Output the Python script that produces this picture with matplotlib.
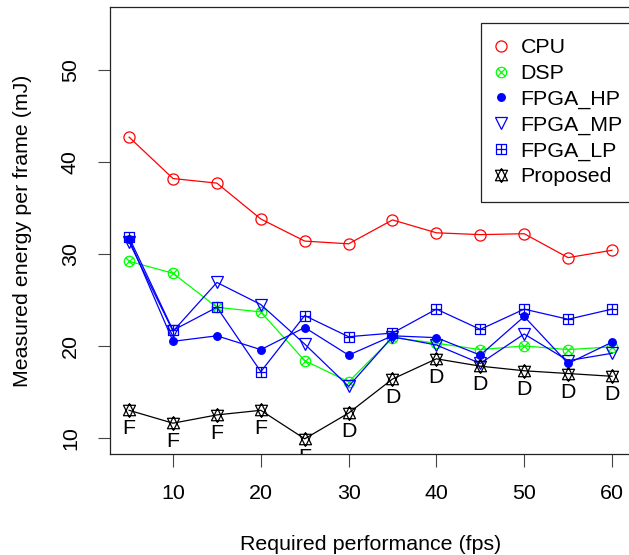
import matplotlib
matplotlib.use("Agg")
import matplotlib.pyplot as plt
import numpy as np
from matplotlib.path import Path
from matplotlib.lines import Line2D

plt.rcParams['font.family'] = ['Liberation Sans', 'DejaVu Sans']

# dados
fps = [5, 10, 15, 20, 25, 30, 35, 40, 45, 50, 55, 60]
cpu = [42.7, 38.2, 37.7, 33.8, 31.4, 31.1, 33.7, 32.3, 32.1, 32.2, 29.6, 30.4]
dsp = [29.2, 27.9, 24.2, 23.7, 18.4, 16.1, 20.9, 20.3, 19.6, 20.0, 19.6, 19.9]
fpga_hp = [31.6, 20.5, 21.1, 19.6, 22.0, 19.0, 21.1, 20.9, 19.0, 23.2, 18.1, 20.4]
fpga_mp = [31.3, 21.6, 26.9, 24.5, 20.2, 15.6, 21.0, 20.1, 18.1, 21.3, 18.4, 19.2]
fpga_lp = [31.8, 21.7, 24.2, 17.2, 23.3, 21.0, 21.4, 24.0, 21.8, 24.0, 22.9, 24.0]
proposed = [13.0, 11.6, 12.5, 13.0, 9.9, 12.7, 16.4, 18.6, 17.8, 17.3, 17.0, 16.7]
escolha = ['F', 'F', 'F', 'F', 'F', 'D', 'D', 'D', 'D', 'D', 'D', 'D']

FS = 15.4

# marcadores compostos no estilo do R (pch 11, 12, 13)
circ = Path.unit_circle()
d = 0.7071
circ_x = Path.make_compound_path(
    circ,
    Path([(-d, -d), (d, d)], [Path.MOVETO, Path.LINETO]),
    Path([(-d, d), (d, -d)], [Path.MOVETO, Path.LINETO]),
)
sq_plus = Path.make_compound_path(
    Path([(-1, -1), (1, -1), (1, 1), (-1, 1), (-1, -1)],
         [Path.MOVETO, Path.LINETO, Path.LINETO, Path.LINETO, Path.CLOSEPOLY]),
    Path([(-1, 0), (1, 0)], [Path.MOVETO, Path.LINETO]),
    Path([(0, -1), (0, 1)], [Path.MOVETO, Path.LINETO]),
)
r, yc, xc = 1.5551, 1.1663, 1.3468
star = Path.make_compound_path(
    Path([(0, r), (xc, -yc), (-xc, -yc), (0, r)],
         [Path.MOVETO, Path.LINETO, Path.LINETO, Path.CLOSEPOLY]),
    Path([(0, -r), (xc, yc), (-xc, yc), (0, -r)],
         [Path.MOVETO, Path.LINETO, Path.LINETO, Path.CLOSEPOLY]),
)

series = [
    ("CPU", cpu, "#FF0000", dict(marker='o', markersize=8)),
    ("DSP", dsp, "#00FF00", dict(marker=circ_x, markersize=7.5)),
    ("FPGA_HP", fpga_hp, "#0000FF", dict(marker='o', markersize=5.5, markerfacecolor="#0000FF")),
    ("FPGA_MP", fpga_mp, "#0000FF", dict(marker='v', markersize=9)),
    ("FPGA_LP", fpga_lp, "#0000FF", dict(marker=sq_plus, markersize=7.5)),
    ("Proposed", proposed, "#000000", dict(marker=star, markersize=10)),
]

fig = plt.figure(figsize=(6.29, 5.55), dpi=100)
ax = fig.add_axes([109.8 / 629, 101 / 555, 521.5 / 629, 447 / 555])

handles = []
for nome, vals, cor, mk in series:
    opts = dict(markerfacecolor='none', markeredgecolor=cor, markeredgewidth=0.9)
    opts.update(mk)
    ax.plot(fps, vals, '-', color=cor, linewidth=0.9, **opts)
    handles.append(Line2D([], [], linestyle='none', color=cor, label=nome, **opts))

# rótulos F / D abaixo dos pontos da proposta
for xi, yi, s in zip(fps, proposed, escolha):
    ax.annotate(s, (xi, yi), xytext=(0, -6.5), textcoords='offset points',
                ha='center', va='top', fontsize=FS, clip_on=True)

ax.set_xlim(2.8, 62.2)
ax.set_ylim(8.25, 56.85)
ax.set_xticks([10, 20, 30, 40, 50, 60])
ax.set_yticks([10, 20, 30, 40, 50])
ax.tick_params(axis='both', labelsize=FS, length=9, width=0.8, color="#444444")
ax.tick_params(axis='x', pad=12.5)
ax.tick_params(axis='y', pad=12.5, labelrotation=90)
for lbl in ax.get_yticklabels():
    lbl.set_va('center')

for sp in ax.spines.values():
    sp.set_linewidth(0.9)
    sp.set_color("#222222")

ax.set_xlabel("Required performance (fps)", fontsize=FS, labelpad=23)
ax.set_ylabel("Measured energy per frame (mJ)", fontsize=FS, labelpad=21)

leg = ax.legend(handles=handles, loc='upper left',
                bbox_to_anchor=(481 / 629, 1 - 23 / 555), bbox_transform=fig.transFigure,
                borderaxespad=0, borderpad=0.72, labelspacing=0.31,
                handlelength=0.45, handletextpad=0.68, fontsize=FS,
                fancybox=False, framealpha=1, edgecolor="#222222")
leg.get_frame().set_linewidth(0.9)

fig.savefig("out.png", dpi=100)
